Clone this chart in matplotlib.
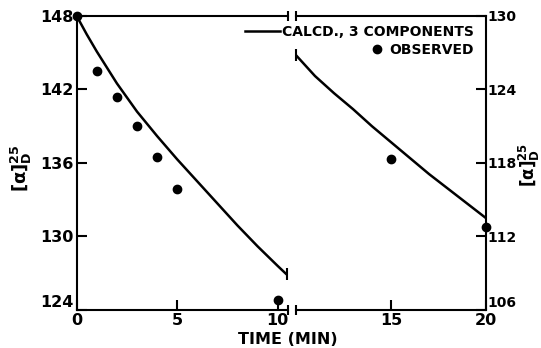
import matplotlib
matplotlib.use("Agg")
import matplotlib.pyplot as plt
from matplotlib.lines import Line2D

plt.rcParams['font.family'] = ['DejaVu Sans']
plt.rcParams['font.weight'] = 'bold'
plt.rcParams['mathtext.fontset'] = 'dejavusans'
plt.rcParams['mathtext.default'] = 'bf'

# observed rotation, first segment (left scale) and second segment (right scale)
obs_time_left = [0, 1, 2, 3, 4, 5, 10]
obs_rot_left = [148.0, 143.5, 141.4, 139.0, 136.5, 133.9, 124.8]
obs_time_right = [15, 20]
obs_rot_right = [118.3, 112.8]

# calculated curve, three components
calc_time_left = [0, 0.5, 1, 2, 3, 4, 5, 6, 7, 8, 9, 10, 10.45]
calc_rot_left = [148.0, 146.5, 145.1, 142.5, 140.2, 138.2, 136.3, 134.5,
                 132.7, 130.9, 129.2, 127.6, 126.9]
calc_time_right = [10, 11, 12, 13, 14, 15, 16, 17, 18, 19, 20]
calc_rot_right = [126.8, 125.1, 123.7, 122.4, 121.0, 119.7, 118.4, 117.1,
                  115.9, 114.7, 113.5]

left_ticks_x = [0, 5, 10]
right_ticks_x = [15, 20]
left_ticks_y = [124, 130, 136, 142, 148]
right_ticks_y = [106, 112, 118, 124, 130]

W, H = 541, 348
fig = plt.figure(figsize=(W / 100, H / 100), dpi=100)

def box(x0, x1, y0, y1):
    return [x0 / W, 1 - y1 / H, (x1 - x0) / W, (y1 - y0) / H]

axL = fig.add_axes(box(76.7, 287.7, 16, 310))
axR = fig.add_axes(box(296, 486, 16, 310))

lw = 1.5
for ax in (axL, axR):
    for s in ax.spines.values():
        s.set_linewidth(lw)
    ax.tick_params(direction='in', length=7, width=lw, labelsize=11.5)

axL.spines['right'].set_visible(False)
axR.spines['left'].set_visible(False)

axL.set_xlim(0, 10.5)
axL.set_ylim(124, 148)
axR.set_xlim(10, 20)
axR.set_ylim(106, 130)

axL.set_xticks(left_ticks_x)
axL.set_yticks(left_ticks_y)
axR.set_xticks(right_ticks_x)
axR.set_yticks(right_ticks_y)
axR.yaxis.tick_right()
axL.tick_params(axis='y', pad=2.5)
axL.tick_params(axis='x', pad=2)
axR.tick_params(axis='y', pad=1, labelsize=10)
axR.tick_params(axis='x', pad=2)

for ax in (axL, axR):
    labs = ax.get_yticklabels()
    labs[0].set_va('bottom')

# calculated curves with end caps at the break
axL.plot(calc_time_left, calc_rot_left, color='black', lw=1.8, solid_capstyle='butt')
axR.plot(calc_time_right, calc_rot_right, color='black', lw=1.8, solid_capstyle='butt')
axL.plot([calc_time_left[-1]], [calc_rot_left[-1]], marker='|', ms=8, mew=1.5,
         color='black')
axR.plot([calc_time_right[0]], [calc_rot_right[0]], marker='|', ms=8, mew=1.5,
         color='black', clip_on=False)

# observed points
axL.plot(obs_time_left, obs_rot_left, 'o', color='black', ms=6, clip_on=False)
axR.plot(obs_time_right, obs_rot_right, 'o', color='black', ms=6, clip_on=False)

# break marks on the top and bottom spines
for ax, xa in ((axL, 1.0), (axR, 0.0)):
    for ya in (0.0, 1.0):
        ax.plot([xa], [ya], marker='|', ms=7, mew=1.5, color='black',
                transform=ax.transAxes, clip_on=False)

# axis titles
fig.text(288 / W, 1 - 340 / H, 'TIME (MIN)', ha='center', va='center', fontsize=11.5)
ylab = r'$[\alpha]^{25}_{D}$'
fig.text(21 / W, 1 - 168 / H, ylab, ha='center', va='center', rotation=90, fontsize=13)
fig.text(529 / W, 1 - 165 / H, ylab, ha='center', va='center', rotation=90, fontsize=12)

# legend entries, right aligned
h1 = Line2D([], [], color='black', lw=1.8)
h2 = Line2D([], [], color='black', marker='o', ls='none', ms=6)
leg1 = fig.legend([h1], ['CALCD., 3 COMPONENTS'], loc='center right',
                  bbox_to_anchor=(474 / W, 1 - 32 / H), frameon=False,
                  fontsize=10, handlelength=2.5, handletextpad=0.15,
                  borderpad=0, borderaxespad=0)
leg2 = fig.legend([h2], ['OBSERVED'], loc='center right',
                  bbox_to_anchor=(474 / W, 1 - 50 / H), frameon=False,
                  fontsize=10, handlelength=1.0, handletextpad=0.4,
                  borderpad=0, borderaxespad=0)

fig.savefig('out.png', dpi=100)
